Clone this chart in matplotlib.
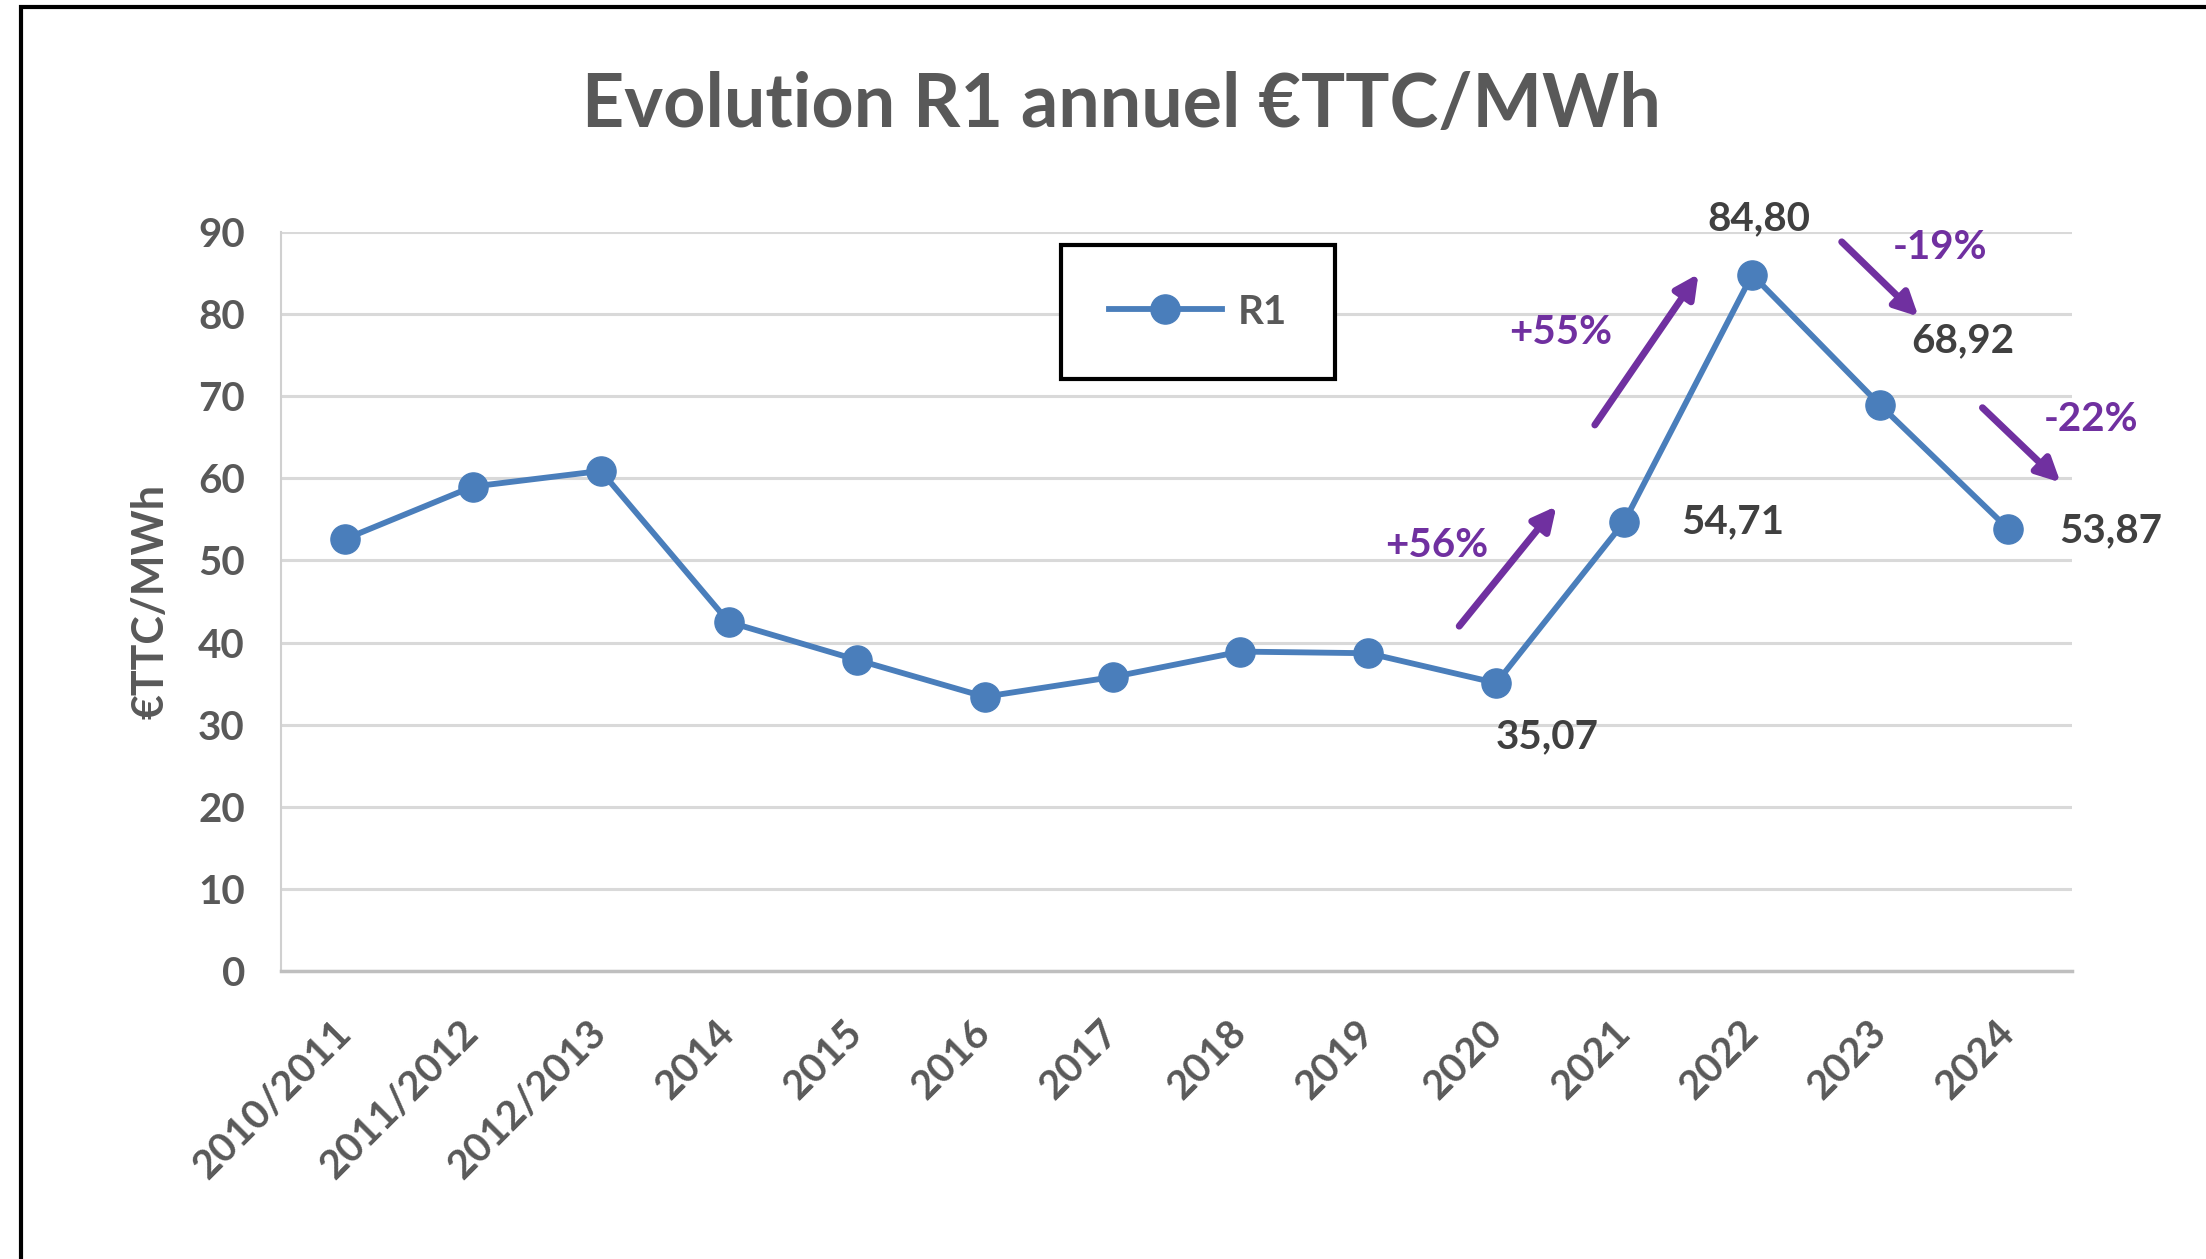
import numpy as np
import matplotlib
matplotlib.use("Agg")
import matplotlib.pyplot as plt
from matplotlib.patches import Rectangle

# data
years = ["2010/2011", "2011/2012", "2012/2013", "2014", "2015", "2016", "2017",
         "2018", "2019", "2020", "2021", "2022", "2023", "2024"]
r1 = [52.6, 59.0, 60.9, 42.5, 37.9, 33.4, 35.8, 38.9, 38.7,
      35.07, 54.71, 84.80, 68.92, 53.87]

# labelled points: (index, text)
label_idx = [9, 10, 11, 12, 13]
label_txt = ["35,07", "54,71", "84,80", "68,92", "53,87"]

# percentage change arrows: (text, start, end, text position) in data coords
pct_txt = ["+56%", "+55%", "-19%", "-22%"]
pct_start = [(8.71, 42.0), (9.77, 66.5), (11.70, 88.8), (12.80, 68.6)]
pct_end = [(9.47, 56.6), (10.58, 84.9), (12.30, 79.7), (13.41, 59.5)]
pct_pos = [(8.53, 51.8), (9.50, 77.8), (12.47, 88.1), (13.65, 67.2)]

plt.rcParams['font.family'] = ['Lato', 'DejaVu Sans']
plt.rcParams['font.weight'] = 'bold'
plt.rcParams['axes.labelweight'] = 'bold'

W, H = 2206, 1259
fig = plt.figure(figsize=(W / 100, H / 100), dpi=100)

# outer frame (right/bottom cut off in the reference)
fig.add_artist(Rectangle((21 / W, -0.2), 1.5, 1 - 7 / H + 0.2,
                         transform=fig.transFigure, fill=False,
                         edgecolor="black", lw=3))

left, right, top, bottom = 281, 2072, 232, 971
ax = fig.add_axes([left / W, 1 - bottom / H, (right - left) / W, (bottom - top) / H])

blue = "#4A7EBB"
purple = "#7030A0"
gray = "#595959"
dark = "#404040"

x = np.arange(len(years))
ax.plot(x, r1, color=blue, lw=4.2, marker="o", markersize=21, label="R1", zorder=3)

ax.set_xlim(-0.5, len(years) - 0.5)
ax.set_ylim(0, 90)
ax.set_yticks(np.arange(0, 91, 10))
ax.set_xticks(x)
ax.set_xticklabels(years, rotation=45, ha="right", va="center",
                   rotation_mode="anchor", fontweight="bold")
ax.set_yticklabels([str(v) for v in range(0, 91, 10)], fontweight="bold")
ax.tick_params(axis="both", length=0, labelsize=29, labelcolor=gray)
ax.tick_params(axis="y", pad=26)
ax.tick_params(axis="x", pad=40)

ax.grid(axis="y", color="#D9D9D9", lw=2.2)
ax.set_axisbelow(True)
for s in ["top", "right"]:
    ax.spines[s].set_visible(False)
ax.spines["left"].set_color("#D0D0D0")
ax.spines["left"].set_linewidth(1.5)
ax.spines["bottom"].set_color("#BFBFBF")
ax.spines["bottom"].set_linewidth(2.5)

ax.set_ylabel("€TTC/MWh", fontsize=31, color=gray, labelpad=20,
              fontweight="bold")

fig.text(1121 / W, 1 - 106 / H, "Evolution R1 annuel €TTC/MWh",
         fontsize=53, color=gray, ha="center", va="center", fontweight="bold")

# value labels
offsets = {9: (0.4, -6.5), 10: (0.85, 0.0), 11: (0.05, 6.8),
           12: (0.65, 7.9), 13: (0.8, -0.3)}
for i, t in zip(label_idx, label_txt):
    dx, dy = offsets[i]
    ax.text(x[i] + dx, r1[i] + dy, t, fontsize=29, color=dark,
            ha="center", va="center", clip_on=False, fontweight="bold")

# percent change arrows
for t, s, e, p in zip(pct_txt, pct_start, pct_end, pct_pos):
    ax.annotate("", xy=e, xytext=s, annotation_clip=False,
                arrowprops=dict(arrowstyle="-|>", color=purple, lw=5,
                                mutation_scale=35, shrinkA=0, shrinkB=0))
    ax.text(p[0], p[1], t, fontsize=29, color=purple, ha="center",
            va="center", clip_on=False, fontweight="bold")

leg = ax.legend(loc="center", bbox_to_anchor=(1198 / W, 1 - 312 / H),
                bbox_transform=fig.transFigure, frameon=True,
                prop={"size": 29, "weight": "bold"},
                fancybox=False, edgecolor="black", framealpha=1,
                borderpad=1.2, handlelength=2.8, handletextpad=0.4,
                labelcolor=gray)
leg.get_frame().set_linewidth(3)

fig.savefig("out.png", dpi=100)
